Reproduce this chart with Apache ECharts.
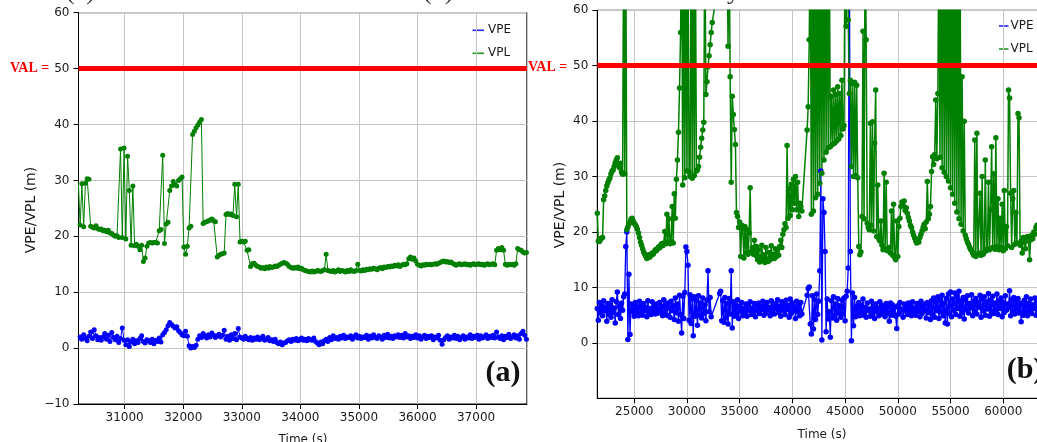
<!DOCTYPE html>
<html>
<head>
<meta charset="utf-8">
<script src="https://cdn.jsdelivr.net/npm/echarts@6/dist/echarts.min.js"></script>
<style>
  html, body { margin: 0; padding: 0; background: #ffffff; }
  #chart { width: 1037px; height: 442px; }
</style>
</head>
<body>
<div id="chart"></div>
<script>
// Panel (a): samples every 30 s starting at 30210 s
const leftStart = 30210;
const leftStep = 30;
const leftVPE = [
  1.2, 2.0, 1.6, 2.4, 1.8, 1.3, 2.1, 2.9, 1.7, 3.3,
  2.2, 1.5, 1.9, 1.4, 2.0, 2.6, 1.6, 2.3, 1.2, 2.8,
  1.9, 1.5, 2.1, 1.0, 1.7, 3.6, 1.4, 0.6, 1.5, 0.3,
  1.1, 1.6, 0.8, 1.3, 1.0, 1.7, 2.2, 1.2, 0.9, 1.5,
  1.3, 1.0, 1.6, 0.8, 1.4, 1.2, 1.8, 1.1, 2.4, 2.8,
  3.3, 4.0, 4.6, 4.2, 3.9, 3.6, 3.8, 3.1, 2.8, 2.4,
  2.2, 3.0, 2.1, 0.4, 0.0, 0.3, 0.1, 0.5, 1.6, 2.2,
  1.9, 2.6, 2.1, 1.8, 2.4, 2.0, 2.7, 2.3, 1.9, 2.2,
  2.5, 2.0, 2.3, 3.2, 1.6, 2.1, 1.4, 2.4, 1.7, 2.6,
  1.5, 3.5, 2.0, 1.8, 1.6, 2.1, 1.7, 1.5, 1.9, 1.4,
  1.8, 1.6, 2.0, 1.5, 1.7, 2.1, 1.4, 1.6, 1.9, 1.3,
  1.5, 1.2, 1.6, 1.0, 0.8, 1.1, 0.6, 0.9, 1.0, 1.3,
  1.5, 1.2, 1.6, 1.4, 1.7, 1.3, 1.5, 1.8, 1.4, 1.6,
  1.3, 1.7, 1.5, 1.4, 1.8, 1.2, 0.9, 0.6, 1.1, 0.8,
  1.3, 1.6, 1.2, 1.9, 1.5, 2.2, 1.7, 1.9, 1.6, 2.1,
  1.8, 2.3, 1.7, 2.0, 1.9, 2.2, 1.6, 2.0, 2.4, 1.8,
  2.1, 1.7, 2.0, 1.9, 2.3, 1.6, 2.1, 1.8, 2.4, 1.9,
  1.7, 2.2, 2.0, 1.6, 2.3, 1.9, 2.5, 1.8, 2.1, 1.7,
  2.2, 2.0, 2.4, 1.9, 2.3, 1.8, 2.6, 2.0, 2.2, 1.7,
  2.1, 1.9, 2.4, 1.8, 2.2, 1.6, 2.0, 2.3, 1.7, 2.1,
  1.9, 2.2, 1.5, 2.0, 1.8, 2.3, 1.4, 0.7, 1.5, 1.9,
  2.2, 1.6, 2.0, 1.8, 2.3, 1.7, 2.1, 1.5, 1.9, 2.2,
  1.6, 2.0, 1.8, 2.4, 1.7, 2.1, 1.9, 2.3, 1.6, 2.2,
  1.8, 2.0, 2.4, 1.7, 2.1, 1.9, 2.3, 1.8, 2.9, 2.0,
  1.7, 2.2, 1.5, 2.1, 1.9, 2.5, 1.7, 2.0, 2.4, 1.8,
  2.2, 1.6, 2.6, 3.0, 2.3, 1.6
];
const leftVPL = [
  29.5, 22.0, 29.4, 21.7, 29.5, 30.3, 30.2, 21.8, 21.6, 21.5,
  21.9, 21.4, 21.2, 21.3, 21.0, 21.1, 20.8, 21.1, 20.6, 20.5,
  20.2, 20.0, 20.1, 19.8, 35.6, 19.8, 35.8, 19.5, 34.3, 28.2,
  18.4, 29.0, 18.3, 18.6, 18.2, 17.6, 18.4, 15.5, 16.1, 18.2,
  18.8, 18.9, 18.8, 18.9, 18.9, 18.8, 21.0, 21.2, 34.5, 18.7,
  22.2, 22.5, 28.2, 29.0, 29.8, 29.2, 29.0, 30.0, 30.3, 30.6,
  18.1, 16.8, 18.2, 21.5, 21.8, 38.2, 38.8, 39.4, 39.9, 40.4,
  40.9, 22.3, 22.5, 22.6, 22.8, 22.9, 23.1, 22.8, 22.6, 16.3,
  16.6, 16.8, 16.9, 17.0, 23.9, 24.1, 23.9, 24.0, 23.7, 29.3,
  23.5, 29.3, 19.0, 19.1, 19.0, 19.1, 17.5, 17.6, 14.6, 15.1,
  15.2, 14.8, 14.6, 14.5, 14.3, 14.4, 14.2, 14.5, 14.3, 14.6,
  14.4, 14.5, 14.7, 14.6, 14.8, 15.0, 15.2, 15.3, 15.2, 15.0,
  14.6, 14.4, 14.3, 14.4, 14.3, 14.5, 14.2, 14.3, 14.0, 13.9,
  13.8, 13.7, 13.6, 13.8, 13.6, 13.7, 13.9, 13.8, 13.7, 13.9,
  14.0, 16.8, 13.9, 13.8, 13.7, 13.9, 13.6, 13.8, 14.0, 13.7,
  13.9, 13.8, 13.6, 13.9, 13.7, 14.0, 13.8, 13.7, 13.9, 15.0,
  13.9, 13.8, 14.0, 13.9, 14.1, 14.0, 14.2, 14.1, 14.3, 14.2,
  14.0, 14.3, 14.4, 14.2, 14.5, 14.4, 14.6, 14.5, 14.7, 14.6,
  14.8, 14.7, 14.9, 14.6, 14.8, 15.0, 14.9, 15.1, 16.0, 16.3,
  15.9, 16.1, 15.6, 15.0, 14.8, 14.7, 14.9, 14.8, 15.0, 14.9,
  15.0, 14.9, 15.0, 15.1, 15.0, 15.2, 15.3, 15.5, 15.6, 15.4,
  15.5, 15.3, 15.4, 15.2, 15.0, 14.8, 15.0, 15.1, 14.9, 15.0,
  15.1, 14.9, 15.0, 14.8, 15.0, 15.1, 14.9, 15.0, 15.1, 14.9,
  15.0, 14.8, 15.0, 15.1, 14.9, 15.0, 15.1, 14.9, 17.5, 17.8,
  17.6, 18.0, 17.5, 15.0, 14.8, 15.0, 14.9, 15.0, 14.8, 15.1,
  17.8, 17.6, 17.5, 17.2, 17.0, 17.1
];

// Panel (b): samples every 100 s starting at 21500 s (null = no solution)
const rightStart = 21500;
const rightStep = 100;
const rightVPE = [
  6.2, 4.1, 7.3, 5.4, 6.8, 4.9, 7.6, 5.8, 6.4, 3.9,
  7.1, 5.2, 6.9, 4.6, 7.8, 5.5, 6.3, 3.6, 7.4, 9.2,
  5.1, 6.6, 4.4, 7.2, 5.9, 8.3, 8.8, 17.4, 20.0, 0.6,
  12.4, 1.5, 7.0, 5.6, 6.9, 4.8, 7.3, 5.7, 6.5, 4.9,
  7.5, 5.3, 6.7, 5.0, 7.1, 5.8, 6.4, 4.7, 7.6, 5.6,
  6.2, 5.1, 7.4, 5.9, 6.8, 5.2, 7.0, 6.1, 5.4, 7.3,
  5.7, 6.6, 4.9, 7.8, 5.5, 6.9, 5.0, 7.2, 6.3, 4.6,
  7.5, 5.8, 6.7, 4.2, 8.1, 5.4, 7.0, 3.9, 8.6, 5.1,
  1.8, 8.4, 4.4, 9.1, 17.3, 16.5, 14.0, 4.1, 8.7, 3.5,
  7.9, 1.3, 8.3, 4.8, 7.6, 3.2, 8.5, 5.0, 7.2, 4.5,
  8.1, 5.3, 6.9, 4.0, 7.7, 13.0, 5.6, 8.2, 4.7, null,
  null, null, null, null, null, null, 8.9, 9.3, 4.0, 7.6,
  3.7, 8.2, 4.5, 7.1, 3.4, 8.0, 5.2, 13.0, 2.7, 7.4,
  4.8, 6.9, 5.3, 7.8, 4.4, 6.6, 5.7, 7.3, 4.9, 6.2,
  5.5, 7.0, 4.8, 6.7, 5.9, 7.4, 5.1, 6.3, 5.6, 7.1,
  4.7, 6.8, 5.8, 7.2, 5.3, 6.5, 6.0, 7.5, 5.0, 6.9,
  5.4, 7.3, 5.9, 6.4, 4.9, 7.6, 5.7, 6.8, 5.2, 7.1,
  6.2, 7.8, 5.5, 6.6, 4.8, 7.4, 5.9, 7.0, 5.1, 7.7,
  6.0, 6.8, 4.6, 7.9, 5.3, 7.2, 5.8, 6.5, 4.4, 7.5,
  5.6, 6.9, 4.9, 7.3, 5.2, null, null, null, null, 8.6,
  9.8, 10.1, 3.4, 1.6, 8.5, 2.5, 7.8, 4.2, 8.8, 5.1,
  7.5, 13.0, 31.0, 0.5, 26.0, 23.5, 16.5, 2.0, 7.9, 4.3,
  5.6, 1.0, 7.6, 4.5, 8.3, 5.0, 7.0, 4.1, 8.0, 5.4,
  6.7, 4.6, 7.7, 5.2, 8.1, 4.0, 8.4, 9.3, 13.5, 75.0,
  16.5, 0.4, 9.0, 3.1, 8.2, 4.7, 6.6, 5.2, 7.3, 4.9,
  6.8, 5.5, 7.9, 5.0, 6.4, 4.6, 7.2, 5.8, 6.1, 4.8,
  7.5, 5.3, 6.6, 4.4, 7.0, 5.7, 6.3, 4.9, 7.4, 5.1,
  6.8, 5.6, 6.2, 4.7, 7.1, 5.4, 6.5, 3.9, 7.2, 5.0,
  6.9, 5.5, 6.4, 4.8, 2.6, 6.7, 5.2, 7.3, 5.9, 6.1,
  4.6, 7.0, 5.8, 6.6, 5.1, 7.2, 5.4, 6.8, 4.9, 7.4,
  5.6, 6.3, 5.0, 7.1, 5.7, 6.9, 4.7, 7.5, 5.3, 6.6,
  5.9, 7.0, 4.5, 7.3, 5.5, 6.8, 4.2, 7.6, 5.2, 8.1,
  4.6, 7.4, 5.8, 8.3, 4.4, 7.7, 5.6, 8.6, 4.9, 7.2,
  3.6, 8.0, 3.4, 8.8, 5.3, 9.2, 4.7, 7.9, 5.9, 9.0,
  5.1, 8.4, 6.2, 9.3, 4.8, 7.6, 5.5, 8.2, 4.3, 7.8,
  6.0, 8.5, 5.4, 7.1, 6.3, 8.7, 4.9, 7.5, 5.7, 8.0,
  5.2, 7.3, 6.4, 8.6, 4.6, 7.9, 5.8, 8.3, 5.0, 7.4,
  6.1, 8.9, 4.8, 7.7, 5.6, 8.4, 5.3, 7.2, 6.0, 8.8,
  5.1, 7.6, 6.2, 8.1, 4.7, 7.3, 5.5, 8.5, 5.9, 7.0,
  6.4, 9.4, 4.9, 7.8, 5.7, 8.2, 5.2, 7.5, 6.1, 8.0,
  5.4, 7.2, 3.8, 6.8, 5.0, 7.7, 5.6, 8.3, 4.9, 7.1,
  5.8, 7.9, 5.3, 6.9, 6.2, 8.1, 5.0, 7.4, 5.7, 6.6
];
const rightVPL = [
  23.4, 18.4, 18.3, 18.6, 18.9, 19.0, 25.8, 26.5, 27.5, 28.3,
  28.9, 29.4, 29.8, 30.5, 31.0, 31.2, 31.8, 32.5, 33.0, 33.4,
  32.3, 31.6, 32.4, 30.8, 30.4, 75.0, 30.5, 75.0, 20.4, 20.9,
  21.4, 21.8, 22.3, 22.5, 22.0, 21.6, 21.3, 21.0, 20.5, 19.8,
  19.0, 18.2, 17.6, 17.0, 16.4, 16.0, 15.6, 15.2, 15.4, 15.9,
  15.5, 15.8, 16.2, 16.0, 16.4, 16.8, 16.6, 17.0, 17.3, 17.1,
  17.6, 17.9, 17.5, 18.0, 20.1, 17.9, 23.2, 18.2, 22.4, 17.9,
  18.3, 24.6, 18.0, 26.9, 22.5, 29.5, 33.0, 38.0, 46.0, 56.0,
  75.0, 28.5, 75.0, 29.8, 75.0, 31.0, 75.0, 30.8, 30.0, 75.0,
  29.7, 75.0, 30.2, 75.0, 31.0, 31.2, 31.8, 33.5, 35.3, 36.9,
  38.4, 39.8, 75.0, 44.8, 47.1, 49.8, 51.8, 53.8, 56.0, 57.8,
  null, null, null, null, null, null, null, null, null, null,
  null, null, null, 75.0, 53.5, 75.0, 48.0, 29.0, 44.5, 41.2,
  38.5, 35.8, 23.5, 22.8, 20.8, 21.8, 15.6, 21.2, 20.6, 15.3,
  21.0, 16.2, 20.4, 16.0, 19.8, 28.0, 16.5, 17.2, 16.0, 18.5,
  15.8, 17.4, 15.0, 16.8, 14.6, 15.5, 17.6, 14.8, 15.9, 14.5,
  17.2, 15.1, 14.7, 16.3, 15.0, 17.5, 15.4, 16.0, 15.2, 17.0,
  15.6, 16.8, 15.8, 17.4, 18.5, 17.2, 19.6, 20.4, 21.5, 20.8,
  35.6, 22.5, 27.8, 23.0, 28.6, 24.0, 29.5, 25.2, 30.0, 24.0,
  29.0, 22.8, 25.2, 24.6, 23.8, null, null, null, null, 38.4,
  42.6, 54.7, 75.0, 23.2, 75.0, 23.8, 75.0, 26.2, 75.0, 26.8,
  75.0, 28.8, 75.0, 30.6, 75.0, 33.0, 75.0, 34.4, 75.0, 35.2,
  75.0, 35.4, 44.5, 35.8, 45.6, 36.0, 44.8, 36.4, 46.2, 36.8,
  45.0, 37.4, 47.4, 38.6, 39.2, 75.0, 57.1, 75.0, 58.3, 45.0,
  47.4, 31.8, 46.8, 30.0, 47.0, 30.2, 46.5, 29.8, 17.4, 15.9,
  16.4, 22.8, 56.2, 22.4, 75.0, 54.7, 21.6, 20.8, 20.4, 39.6,
  21.2, 39.9, 20.2, 36.0, 45.6, 19.2, 28.5, 18.8, 18.4, 22.0,
  17.6, 16.8, 30.6, 17.0, 29.0, 16.6, 16.9, 17.2, 16.2, 23.8,
  15.8, 25.0, 15.4, 15.0, 22.0, 15.6, 21.0, 22.5, 24.6, 25.4,
  24.8, 25.6, 23.9, 24.4, 23.4, 22.6, 22.0, 21.2, 20.8, 20.0,
  19.4, 18.9, 18.4, 18.0, 18.6, 18.2, 19.0, 19.6, 20.2, 20.8,
  21.4, 20.6, 21.8, 29.1, 22.4, 23.2, 24.6, 30.9, 33.6, 32.2,
  34.0, 43.8, 33.2, 45.0, 75.0, 33.5, 75.0, 31.6, 75.0, 30.8,
  75.0, 30.0, 75.0, 29.2, 75.0, 28.0, 75.0, 26.8, 75.0, 25.2,
  75.0, 23.6, 75.0, 22.4, 75.0, 21.4, 48.0, 20.2, 40.0, 19.4,
  18.8, 18.2, 17.8, 17.3, 16.9, 16.6, 16.2, 15.8, 36.6, 15.6,
  37.8, 15.9, 16.2, 27.0, 15.8, 30.0, 16.0, 16.4, 33.0, 16.6,
  17.0, 29.0, 16.8, 24.0, 35.4, 17.2, 30.5, 16.9, 37.0, 17.4,
  26.0, 16.8, 22.5, 17.2, 25.0, 16.6, 27.5, 17.0, 21.0, 17.5,
  45.6, 44.2, 27.0, 17.2, 26.0, 27.5, 17.8, 23.5, 18.0, 41.4,
  40.6, 17.6, 18.4, 16.2, 19.0, 18.2, 17.0, 18.8, 19.2, 18.4,
  15.0, 18.6, 19.4, 18.8, 20.0, 19.6, 20.8, 21.2, 20.6, 21.0
];

// Vertical alert limit (m)
const VAL = 50;
const seriesNames = ['VPE', 'VPL'];

const BLUE = '#0000ff';
const GREEN = '#008000';
const RED = '#ff0000';
const TEXT = '#1a1a1a';
const SANS = '"DejaVu Sans", sans-serif';
const SERIF = '"Liberation Serif", "Times New Roman", serif';
const seriesColors = [BLUE, GREEN];

function toPairs(start, step, values) {
  return values.map((v, i) => [start + i * step, v]);
}

function xAxisOf(grid, min, max, splitNumber) {
  return {
    gridIndex: grid, type: 'value', min: min, max: max, splitNumber: splitNumber,
    axisLine: { show: true, onZero: false, lineStyle: { color: '#000', width: 1 } },
    axisTick: { show: true, inside: false, length: 5, lineStyle: { color: '#000', width: 1 } },
    axisLabel: {
      showMinLabel: false, showMaxLabel: false, margin: 8, color: TEXT, fontFamily: SANS, fontSize: 12,
      formatter: v => String(v)
    },
    splitLine: { show: true, lineStyle: { color: '#c4c4c4', width: 1 } }
  };
}

function yAxisOf(grid, showMin) {
  return {
    gridIndex: grid, type: 'value', min: -10, max: 60, interval: 10,
    axisLine: { show: true, lineStyle: { color: '#000', width: 1 } },
    axisTick: { show: true, inside: false, length: 5, lineStyle: { color: '#000', width: 1 } },
    axisLabel: {
      showMinLabel: showMin, margin: 9, color: TEXT, fontFamily: SANS, fontSize: 12,
      formatter: v => (v < 0 ? '\u2212' + Math.abs(v) : String(v))
    },
    splitLine: { show: true, lineStyle: { color: '#c4c4c4', width: 1 } }
  };
}

function lineSeries(name, grid, data, color, size, width, withVal) {
  const s = {
    name: name, type: 'line', xAxisIndex: grid, yAxisIndex: grid,
    data: data, connectNulls: true, clip: true,
    symbol: 'circle', symbolSize: size, showSymbol: true, showAllSymbol: true,
    lineStyle: { color: color, width: width },
    itemStyle: { color: color, borderWidth: 0 },
    emphasis: { disabled: true },
    silent: true, animation: false
  };
  if (withVal) {
    s.markLine = {
      silent: true, symbol: 'none', animation: false,
      label: { show: false },
      emphasis: { disabled: true },
      lineStyle: { color: RED, width: 5, type: 'solid' },
      data: [{ yAxis: VAL }]
    };
  }
  return s;
}

function label(text, x, y, font, fill, align, rotation) {
  return {
    type: 'text', x: x, y: y, rotation: rotation || 0, silent: true,
    style: { text: text, font: font, fill: fill, align: align || 'center', verticalAlign: 'middle' }
  };
}

// Key: a short line sample followed by the series name, one row per series
function legendKey(x, y, lineLen, textGap, rowGap) {
  const items = [];
  seriesNames.forEach((name, k) => {
    const yy = y + k * rowGap;
    items.push({
      type: 'line', silent: true,
      shape: { x1: x, y1: yy, x2: x + lineLen, y2: yy },
      style: { stroke: seriesColors[k], lineWidth: 1.6, opacity: 0.85 }
    });
    items.push(label(name, x + lineLen + textGap, yy, '12px ' + SANS, TEXT, 'left'));
  });
  return items;
}

const chart = echarts.init(document.getElementById('chart'), null, { renderer: 'canvas' });

chart.setOption({
  backgroundColor: '#ffffff',
  animation: false,
  grid: [
    { left: 78.5, top: 12.7, width: 448.4, height: 391.3, outerBoundsMode: 'none', containLabel: false,
      show: true, borderColor: '#000', borderWidth: 1, backgroundColor: 'transparent' },
    { left: 597.3, top: 10.3, width: 469.2, height: 388, outerBoundsMode: 'none', containLabel: false,
      show: true, borderColor: '#000', borderWidth: 1, backgroundColor: 'transparent' }
  ],
  xAxis: [
    xAxisOf(0, 30212, 37868, 8),
    xAxisOf(1, 21500, 66000, 9)
  ],
  yAxis: [
    yAxisOf(0, true),
    yAxisOf(1, false)
  ],
  series: [
    lineSeries('VPE', 0, toPairs(leftStart, leftStep, leftVPE), BLUE, 5, 1, false),
    lineSeries('VPL', 0, toPairs(leftStart, leftStep, leftVPL), GREEN, 5, 1, true),
    lineSeries('VPE', 1, toPairs(rightStart, rightStep, rightVPE), BLUE, 5.5, 1.3, false),
    lineSeries('VPL', 1, toPairs(rightStart, rightStep, rightVPL), GREEN, 5.5, 1.5, true)
  ],
  graphic: [
    // caption fragments along the top edge
    label('(a)', 66, -8, '26px ' + SERIF, '#333', 'left'),
    label('(b)', 423, -8, '26px ' + SERIF, '#333', 'left'),
    label('y', 727, -8, '26px ' + SERIF, '#333', 'left'),
    // VAL annotations
    label('VAL =', 10, 68, 'bold 14px ' + SERIF, RED, 'left'),
    label('VAL =', 528, 67, 'bold 14px ' + SERIF, RED, 'left'),
    // axis titles
    label('VPE/VPL (m)', 31, 210, '14px ' + SANS, TEXT, 'center', Math.PI / 2),
    label('VPE/VPL (m)', 560, 205, '14px ' + SANS, TEXT, 'center', Math.PI / 2),
    label('Time (s)', 303, 440, '12px ' + SANS, TEXT, 'center'),
    label('Time (s)', 822, 435, '12px ' + SANS, TEXT, 'center'),
    // panel tags
    label('(a)', 503, 373, 'bold 30px ' + SERIF, '#111', 'center'),
    label('(b)', 1025, 370, 'bold 30px ' + SERIF, '#111', 'center')
  ].concat(legendKey(472.5, 30.3, 11.5, 4, 23), legendKey(999, 26, 9.5, 2, 23))
});
</script>
</body>
</html>
